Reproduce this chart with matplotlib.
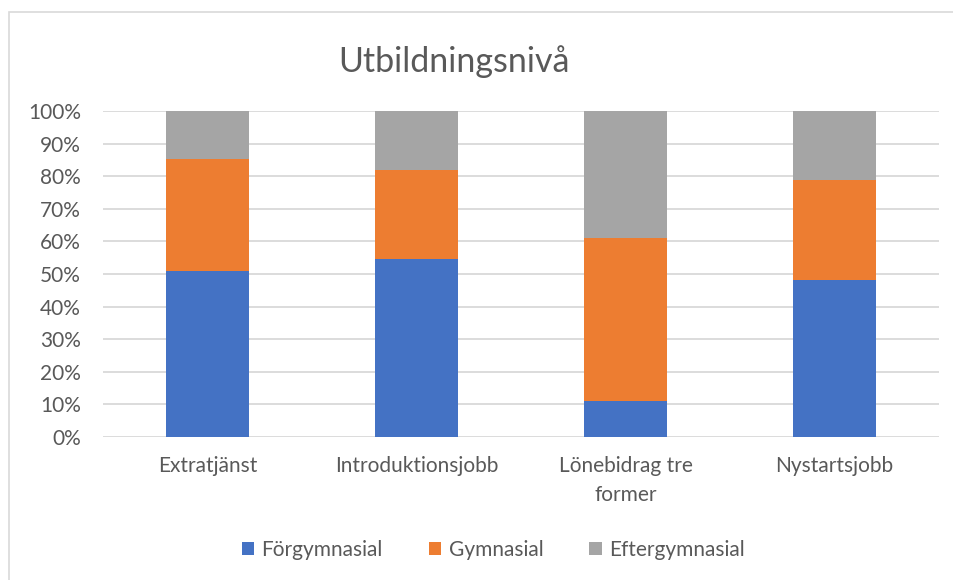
import numpy as np
import matplotlib.pyplot as plt
from matplotlib.patches import Rectangle
from matplotlib.ticker import PercentFormatter

plt.rcParams['font.family'] = ['Lato', 'DejaVu Sans']

categories = ['Extratjänst', 'Introduktionsjobb', 'Lönebidrag tre\nformer', 'Nystartsjobb']
series_names = ['Förgymnasial', 'Gymnasial', 'Eftergymnasial']
forgymnasial = [50.8, 54.7, 11.0, 48.2]
gymnasial = [34.6, 27.2, 50.1, 30.6]
eftergymnasial = [14.6, 18.1, 38.9, 21.2]
colors = ['#4472C4', '#ED7D31', '#A5A5A5']
text_color = '#595959'

fig = plt.figure(figsize=(9.54, 5.80), dpi=100)
ax = fig.add_axes([103/954, 1 - 437/580, (939 - 103)/954, (437 - 111)/580])

# outer chart border (cut off at right/bottom like the screenshot)
fig.patches.append(Rectangle((9/954, -0.1), 1.2, 1 - 12/580 + 0.1,
                             transform=fig.transFigure, fill=False,
                             edgecolor='#D9D9D9', linewidth=1.2))

x = np.arange(len(categories))
bottom = np.zeros(len(categories))
for name, vals, c in zip(series_names, [forgymnasial, gymnasial, eftergymnasial], colors):
  ax.bar(x, vals, 0.4, bottom=bottom, color=c, label=name, zorder=3)
  bottom += np.array(vals)

ax.set_xlim(-0.5, 3.5)
ax.set_ylim(0, 100)
ax.set_yticks(np.arange(0, 101, 10))
ax.yaxis.set_major_formatter(PercentFormatter(decimals=0))
ax.yaxis.grid(True, color='#D9D9D9', linewidth=1.3, zorder=0)
ax.set_xticks(x)
ax.set_xticklabels(categories, linespacing=1.55)
ax.tick_params(length=0, labelsize=15, labelcolor=text_color)
ax.tick_params(axis='y', pad=16)
ax.tick_params(axis='x', pad=14)
for s in ax.spines.values():
  s.set_visible(False)

fig.text(0.4754, 1 - 62/580, 'Utbildningsnivå', ha='center', va='center',
         fontsize=24.5, color=text_color)

leg = fig.legend(loc='center', bbox_to_anchor=(0.517, 1 - 550/580), ncol=3,
                 frameon=False, fontsize=15, handlelength=0.6, handleheight=0.6,
                 handletextpad=0.35, columnspacing=2.2)
for t in leg.get_texts():
  t.set_color(text_color)

fig.savefig('out.png', dpi=100)
